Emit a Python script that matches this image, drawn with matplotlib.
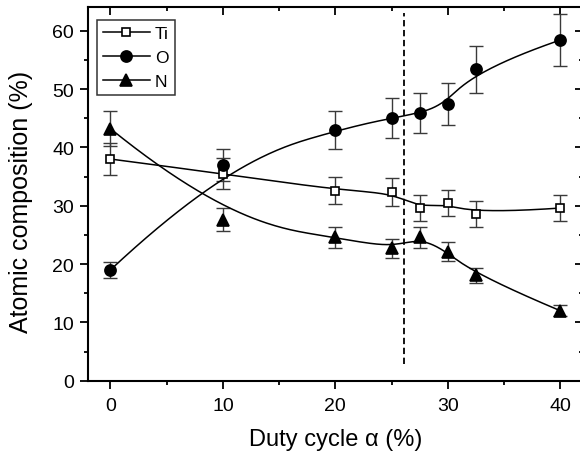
import numpy as np
import matplotlib
matplotlib.use('Agg')
import matplotlib.pyplot as plt
from matplotlib.ticker import MultipleLocator

plt.rcParams['font.family'] = ['Liberation Sans', 'DejaVu Sans']

# Data
duty = [0, 10, 20, 25, 27.5, 30, 32.5, 40]
ti = [38.0, 35.5, 32.6, 32.3, 29.6, 30.5, 28.6, 29.6]
ti_err = [2.8, 2.6, 2.3, 2.4, 2.2, 2.2, 2.2, 2.2]
oxy = [19.0, 37.0, 43.0, 45.0, 45.9, 47.5, 53.4, 58.4]
oxy_err = [1.4, 2.8, 3.2, 3.4, 3.5, 3.6, 4.0, 4.4]
nit = [43.2, 27.6, 24.6, 22.7, 24.6, 22.1, 18.1, 12.0]
nit_err = [3.0, 2.0, 1.8, 1.6, 1.8, 1.6, 1.3, 0.9]
transition = 26.1


def bspline(xs, ys, npts=400, k=3):
    # clamped cubic B-spline using the data points as control points
    P = np.column_stack([xs, ys])
    m = len(P)
    knots = np.concatenate([np.zeros(k), np.linspace(0, 1, m - k + 1), np.ones(k)])
    t = np.linspace(0, 1, npts)
    t[-1] -= 1e-10

    def basis(i, d):
        if d == 0:
            return ((knots[i] <= t) & (t < knots[i + 1])).astype(float)
        out = np.zeros_like(t)
        den1 = knots[i + d] - knots[i]
        den2 = knots[i + d + 1] - knots[i + 1]
        if den1 > 0:
            out += (t - knots[i]) / den1 * basis(i, d - 1)
        if den2 > 0:
            out += (knots[i + d + 1] - t) / den2 * basis(i + 1, d - 1)
        return out

    B = np.array([basis(i, k) for i in range(m)])
    C = B.T @ P
    return C[:, 0], C[:, 1]


fig = plt.figure(figsize=(5.8, 4.52), dpi=100)
ax = fig.add_axes([0.1517, 0.1555, 0.853, 0.826])

ecol = '#3a3a3a'
series = [
    (ti, ti_err, 's', 6, 'white', 'Ti'),
    (oxy, oxy_err, 'o', 8, 'black', 'O'),
    (nit, nit_err, '^', 8.5, 'black', 'N'),
]
for vals, err, mk, ms, fc, lab in series:
    ax.errorbar(duty, vals, yerr=err, fmt='none', ecolor=ecol, elinewidth=1.0,
                capsize=5, capthick=1.0, zorder=2)
    sx, sy = bspline(duty, vals)
    ax.plot(sx, sy, color='black', lw=1.1, zorder=3)
    ax.plot(duty, vals, linestyle='none', marker=mk, ms=ms, mfc=fc,
            mec='black', mew=1.2, zorder=4)
    # legend proxy
    ax.plot([], [], color='black', lw=1.1, marker=mk, ms=ms, mfc=fc,
            mec='black', mew=1.2, label=lab)

ax.plot([transition, transition], [2.8, 63], color='black', lw=1.3,
        linestyle=(0, (3.5, 2)), zorder=1)

ax.set_xlim(-2, 42)
ax.set_ylim(0, 64)
ax.xaxis.set_major_locator(MultipleLocator(10))
ax.xaxis.set_minor_locator(MultipleLocator(5))
ax.yaxis.set_major_locator(MultipleLocator(10))
ax.yaxis.set_minor_locator(MultipleLocator(5))

for s in ax.spines.values():
    s.set_linewidth(1.5)
ax.tick_params(which='both', labelsize=14, width=1.3)
ax.tick_params(which='major', length=6)
ax.tick_params(which='minor', length=3)
ax.tick_params(axis='x', which='both', pad=6)
ax.tick_params(axis='y', which='both', pad=4)
ax.tick_params(which='both', top=True, right=True)
# inward ticks on top/right, outward on bottom/left
for tk in ax.xaxis.get_major_ticks() + ax.xaxis.get_minor_ticks():
    tk.tick2line.set_marker(3)
for tk in ax.yaxis.get_major_ticks() + ax.yaxis.get_minor_ticks():
    tk.tick2line.set_marker(0)

ax.set_xlabel('Duty cycle α (%)', fontsize=17, labelpad=10)
ax.set_ylabel('Atomic composition (%)', fontsize=18, labelpad=14)
ax.yaxis.label.set_y(0.482)

leg = ax.legend(loc='upper left', fontsize=12.5, frameon=True, fancybox=False,
                edgecolor='black', handlelength=2.7, labelspacing=0.5,
                handletextpad=0.3, borderpad=0.35, borderaxespad=0.5,
                bbox_to_anchor=(0.0, 0.99))
leg.get_frame().set_linewidth(1.1)

plt.savefig('out.png', dpi=100)
